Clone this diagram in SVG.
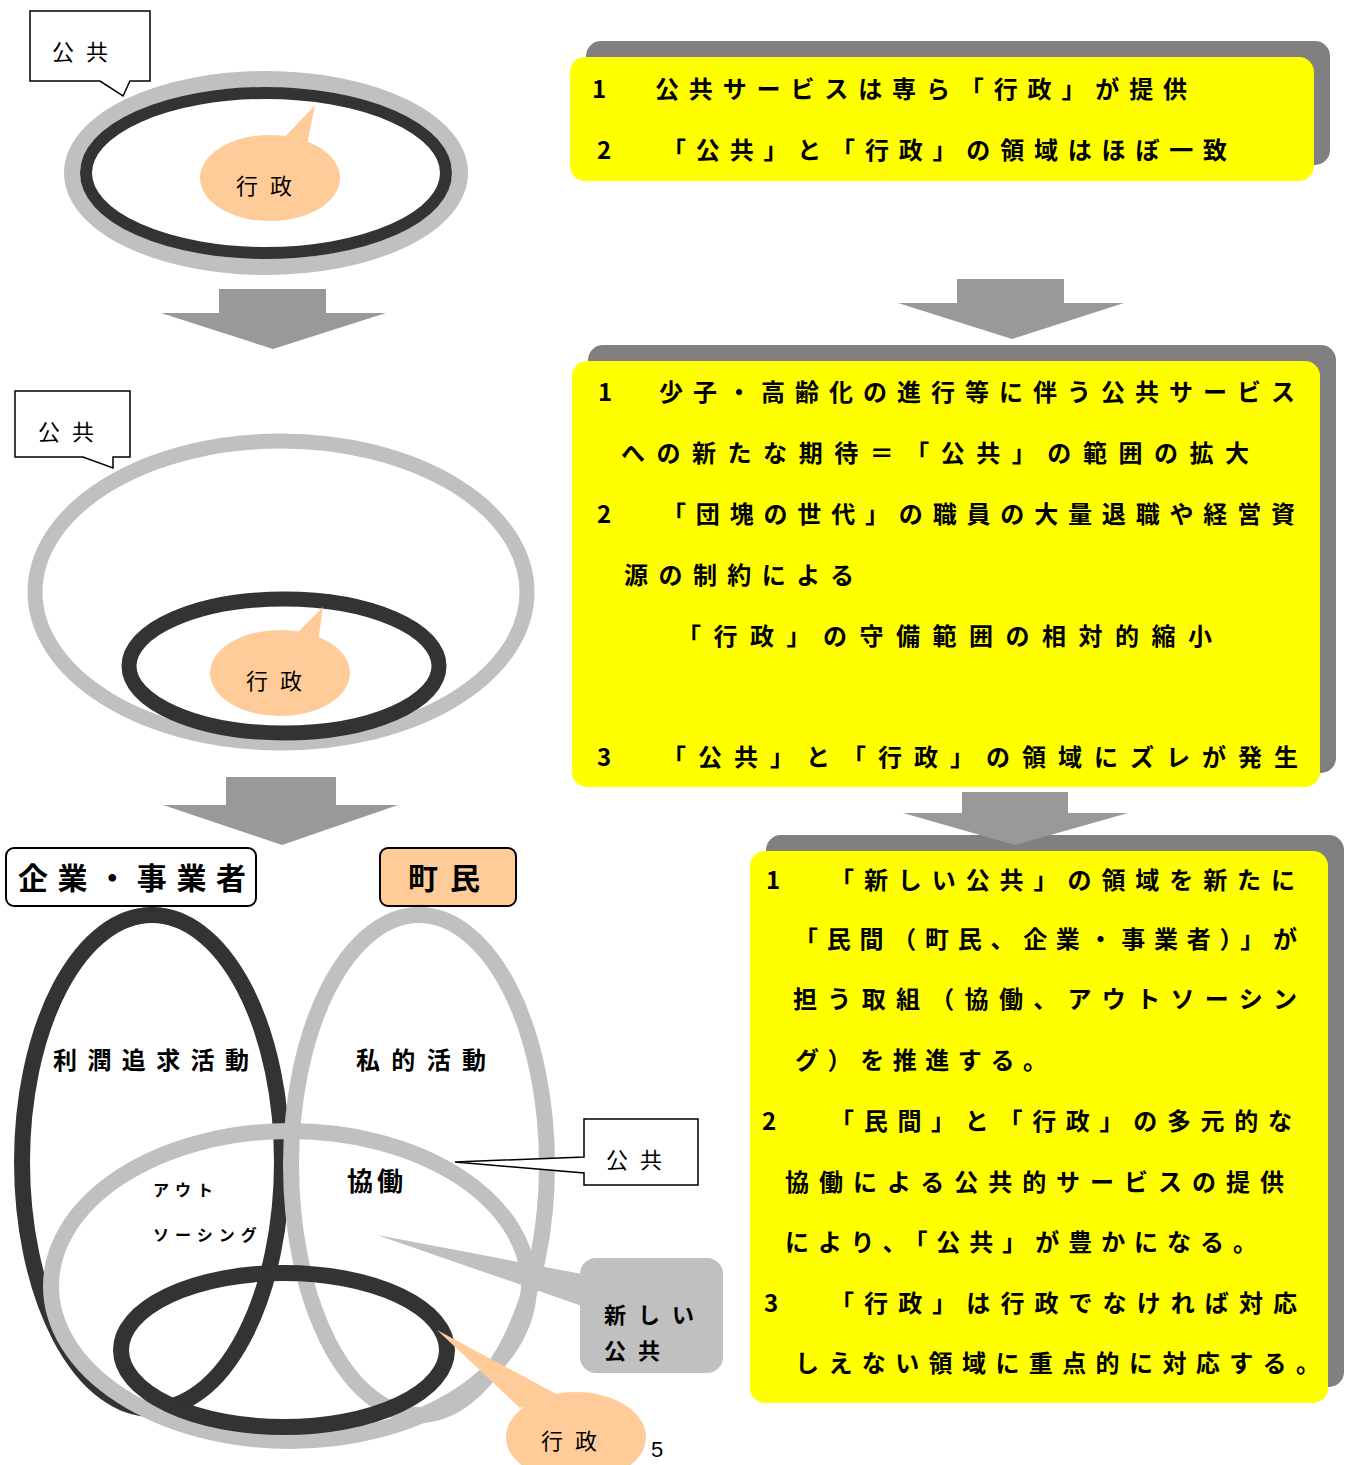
<svg xmlns="http://www.w3.org/2000/svg" width="1353" height="1465" viewBox="0 0 1353 1465">
<style>
.t{font-family:"Noto Sans CJK JP","Noto Sans",sans-serif;fill:#000}
.b{font-weight:bold;font-size:24px}
.n{font-size:22px}
.lg{fill:none;stroke:#C0C0C0}
.dk{fill:none;stroke:#333333}
.or{fill:#FFCC99}
.ar{fill:#999999}
.sh{fill:#808080}
.yl{fill:#FFFF00}
.cw{fill:#fff;stroke:#000;stroke-width:1.5}
</style>
<rect width="1353" height="1465" fill="#fff"/>

<g id="stage1">
  <ellipse class="lg" cx="266" cy="173" rx="194" ry="94" stroke-width="16"/>
  <ellipse class="dk" cx="266" cy="173" rx="180" ry="80" stroke-width="12"/>
  <g id="s1-koukyo">
    <path class="cw" d="M30,11 H150 V81 H130 L123,96 L100,81 H30 Z"/>
    <text class="t n" x="52" y="60" letter-spacing="12">公共</text>
  </g>
  <g id="s1-gyousei">
    <ellipse class="or" cx="270" cy="178" rx="70" ry="43"/>
    <polygon class="or" points="282,140 315,105 307,145"/>
    <text class="t n" x="236" y="194" letter-spacing="12">行政</text>
  </g>
</g>

<g id="stage2">
  <ellipse class="lg" cx="281" cy="592" rx="246" ry="151" stroke-width="15"/>
  <ellipse class="dk" cx="284" cy="666" rx="155" ry="67" stroke-width="15"/>
  <g id="s2-koukyo">
    <path class="cw" d="M15,391 H130 V457 H113 L113,468 L83,457 H15 Z"/>
    <text class="t n" x="38" y="440" letter-spacing="12">公共</text>
  </g>
  <g id="s2-gyousei">
    <ellipse class="or" cx="280" cy="673" rx="70" ry="43"/>
    <polygon class="or" points="294,636 323,607 318,642"/>
    <text class="t n" x="246" y="689" letter-spacing="12">行政</text>
  </g>
</g>

<g id="connectors">
  <polygon class="ar" points="219,289 326,289 326,313 386,313 273,349 161,313 219,313"/>
  <polygon class="ar" points="957,279 1064,279 1064,303 1124,303 1012,339 898,303 957,303"/>
  <polygon class="ar" points="226,777 336,777 336,805 398,805 282,845 163,805 226,805"/>
</g>

<g id="panel1">
  <rect class="sh" x="586" y="41" width="744" height="124" rx="15"/>
  <rect class="yl" x="570" y="57" width="744" height="124" rx="15"/>
  <text class="t b" x="592" y="98">1</text>
  <text class="t b" x="655" y="98" textLength="532" lengthAdjust="spacing">公共サービスは専ら「行政」が提供</text>
  <text class="t b" x="597" y="159">2</text>
  <text class="t b" x="662" y="159" textLength="565" lengthAdjust="spacing">「公共」と「行政」の領域はほぼ一致</text>
</g>

<g id="panel2">
  <rect class="sh" x="588" y="345" width="748" height="428" rx="15"/>
  <rect class="yl" x="572" y="361" width="748" height="426" rx="15"/>
  <text class="t b" x="598" y="401">1</text>
  <text class="t b" x="659" y="401" textLength="636" lengthAdjust="spacing">少子・高齢化の進行等に伴う公共サービス</text>
  <text class="t b" x="621" y="462" textLength="628" lengthAdjust="spacing">への新たな期待＝「公共」の範囲の拡大</text>
  <text class="t b" x="597" y="523">2</text>
  <text class="t b" x="662" y="523" textLength="633" lengthAdjust="spacing">「団塊の世代」の職員の大量退職や経営資</text>
  <text class="t b" x="624" y="584" textLength="230" lengthAdjust="spacing">源の制約による</text>
  <text class="t b" x="677" y="645" textLength="535" lengthAdjust="spacing">「行政」の守備範囲の相対的縮小</text>
  <text class="t b" x="597" y="766">3</text>
  <text class="t b" x="662" y="766" textLength="636" lengthAdjust="spacing">「公共」と「行政」の領域にズレが発生</text>
</g>

<g id="panel3">
  <rect class="sh" x="766" y="835" width="578" height="552" rx="15"/>
  <polygon class="ar" points="962,792 1068,792 1068,813 1128,813 1015,845 903,813 962,813"/>
  <rect class="yl" x="750" y="851" width="578" height="552" rx="15"/>
  <text class="t b" x="766" y="889">1</text>
  <text class="t b" x="830" y="889" textLength="465" lengthAdjust="spacing">「新しい公共」の領域を新たに</text>
  <text class="t b" x="794" y="948" textLength="503" lengthAdjust="spacing">「民間（町民、企業・事業者）」が</text>
  <text class="t b" x="793" y="1008" textLength="504" lengthAdjust="spacing">担う取組（協働、アウトソーシン</text>
  <text class="t b" x="795" y="1069" textLength="252" lengthAdjust="spacing">グ）を推進する。</text>
  <text class="t b" x="762" y="1130">2</text>
  <text class="t b" x="830" y="1130" textLength="462" lengthAdjust="spacing">「民間」と「行政」の多元的な</text>
  <text class="t b" x="785" y="1191" textLength="499" lengthAdjust="spacing">協働による公共的サービスの提供</text>
  <text class="t b" x="785" y="1251" textLength="472" lengthAdjust="spacing">により、「公共」が豊かになる。</text>
  <text class="t b" x="764" y="1312">3</text>
  <text class="t b" x="830" y="1312" textLength="467" lengthAdjust="spacing">「行政」は行政でなければ対応</text>
  <text class="t b" x="795" y="1372" textLength="525" lengthAdjust="spacing">しえない領域に重点的に対応する。</text>
</g>

<g id="stage3">
  <ellipse class="dk" cx="152" cy="1162" rx="130" ry="247" stroke-width="16"/>
  <ellipse class="lg" cx="419" cy="1165" rx="128" ry="250" stroke-width="16"/>
  <ellipse class="lg" cx="290" cy="1286" rx="239" ry="155" stroke-width="16"/>
  <ellipse class="dk" cx="284" cy="1350" rx="163" ry="77" stroke-width="16"/>

  <g id="kigyou">
    <rect x="6" y="848" width="250" height="58" rx="8" fill="#fff" stroke="#000" stroke-width="2"/>
    <text class="t" x="18" y="889" font-size="30" font-weight="bold" textLength="228" lengthAdjust="spacing">企業・事業者</text>
  </g>
  <g id="choumin">
    <rect x="380" y="848" width="136" height="58" rx="8" fill="#FFCC99" stroke="#000" stroke-width="2"/>
    <text class="t" x="408" y="889" font-size="30" font-weight="bold" letter-spacing="12">町民</text>
  </g>

  <text class="t b" x="53" y="1069" textLength="196" lengthAdjust="spacing">利潤追求活動</text>
  <text class="t b" x="356" y="1069" textLength="130" lengthAdjust="spacing">私的活動</text>
  <text class="t" x="347" y="1191" font-size="26" font-weight="bold" letter-spacing="4">協働</text>
  <text class="t" x="153" y="1196" font-size="16" font-weight="bold" letter-spacing="6">アウト</text>
  <text class="t" x="153" y="1241" font-size="16" font-weight="bold" letter-spacing="6">ソーシング</text>

  <g id="c-koukyo">
    <path class="cw" d="M584,1119 H698 V1185 H584 V1173 L455,1162 L584,1157 Z"/>
    <text class="t n" x="606" y="1168" letter-spacing="12">公共</text>
  </g>
  <g id="c-atarashii">
    <rect x="580" y="1258" width="143" height="115" rx="16" fill="#C0C0C0"/>
    <polygon points="377,1235 582,1274 582,1306" fill="#C0C0C0"/>
    <text class="t" x="604" y="1323" font-size="22" font-weight="bold" letter-spacing="12">新しい</text>
    <text class="t" x="604" y="1359" font-size="22" font-weight="bold" letter-spacing="12">公共</text>
  </g>
  <g id="c-gyousei">
    <ellipse class="or" cx="576" cy="1437" rx="70" ry="45"/>
    <polygon class="or" points="437,1330 560,1396 520,1408"/>
    <text class="t n" x="541" y="1449" letter-spacing="12">行政</text>
  </g>
  <text x="651" y="1457" font-family="Liberation Sans, sans-serif" font-size="22" fill="#000">5</text>
</g>
</svg>
